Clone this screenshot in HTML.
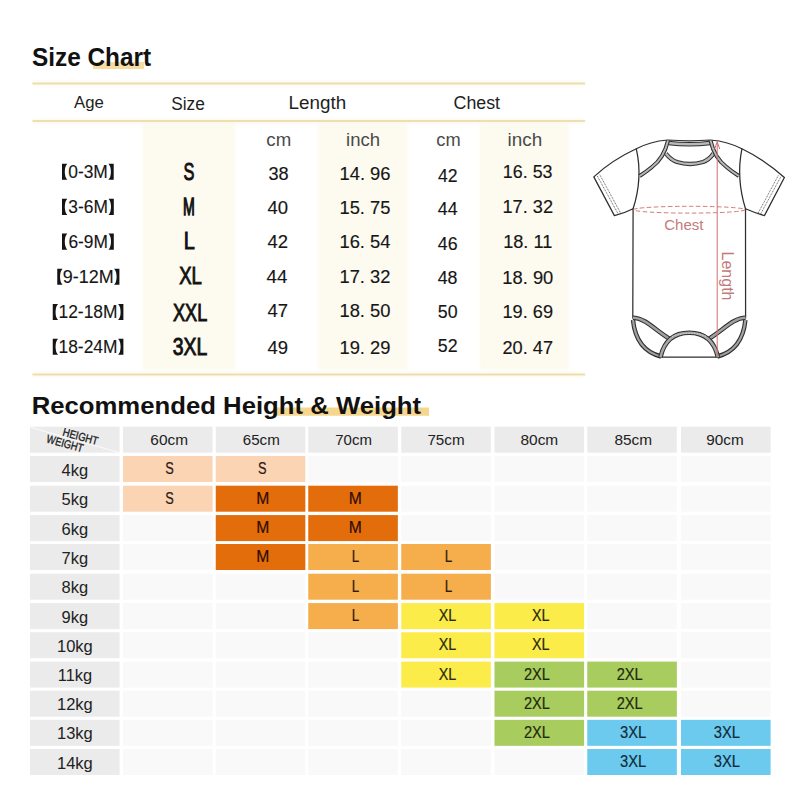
<!DOCTYPE html>
<html><head><meta charset="utf-8"><style>
html,body{margin:0;padding:0;background:#fff;width:800px;height:800px;overflow:hidden}
svg{display:block;font-family:"Liberation Sans", sans-serif}
</style></head><body>
<svg width="800" height="800" viewBox="0 0 800 800">
<rect width="800" height="800" fill="#fff"/>
<rect x="93" y="62" width="51" height="7" fill="#f6dc9e" />
<text id="title1" x="91.58" y="66" font-size="25" font-weight="bold" fill="#111" text-anchor="middle" textLength="119.13" lengthAdjust="spacingAndGlyphs" >Size Chart</text>
<defs><filter id="bl" x="-10%" y="-5%" width="120%" height="110%"><feGaussianBlur stdDeviation="1.6"/></filter></defs>
<g filter="url(#bl)">
<rect x="142.5" y="122" width="92.5" height="248" fill="#fdfaf0" />
<rect x="318" y="122" width="90" height="248" fill="#fdfaf0" />
<rect x="479.6" y="122" width="89.4" height="248" fill="#fdfaf0" />
<rect x="32.5" y="81.5" width="552.5" height="4" fill="#fdf8e6" />
<rect x="32.5" y="119" width="552.5" height="4" fill="#fdf8e6" />
<rect x="32.5" y="372.5" width="552.5" height="4" fill="#fdf8e6" />
</g>
<rect x="32.5" y="82.6" width="552.5" height="1.8" fill="#ebdcae" />
<rect x="32.5" y="120.1" width="552.5" height="1.8" fill="#ebdcae" />
<rect x="32.5" y="373.6" width="552.5" height="1.8" fill="#ebdcae" />
<text id="h_age" x="88.93" y="108.3" font-size="17" font-weight="normal" fill="#1e1e1e" text-anchor="middle" textLength="29.81" lengthAdjust="spacingAndGlyphs" >Age</text>
<text id="h_size" x="187.96" y="110" font-size="17.5" font-weight="normal" fill="#1e1e1e" text-anchor="middle" textLength="33.65" lengthAdjust="spacingAndGlyphs" >Size</text>
<text id="h_len" x="317.44" y="109.4" font-size="18" font-weight="normal" fill="#1e1e1e" text-anchor="middle" textLength="57.62" lengthAdjust="spacingAndGlyphs" >Length</text>
<text id="h_chest" x="476.82" y="109" font-size="17.5" font-weight="normal" fill="#1e1e1e" text-anchor="middle" textLength="46.45" lengthAdjust="spacingAndGlyphs" >Chest</text>
<text id="cm1" x="278.79" y="146" font-size="18" font-weight="normal" fill="#4a4a4a" text-anchor="middle" textLength="24.85" lengthAdjust="spacingAndGlyphs" >cm</text>
<text id="in1" x="363.11" y="146" font-size="18" font-weight="normal" fill="#4a4a4a" text-anchor="middle" textLength="34.02" lengthAdjust="spacingAndGlyphs" >inch</text>
<text id="cm2" x="448.46" y="146" font-size="18" font-weight="normal" fill="#4a4a4a" text-anchor="middle" textLength="24.34" lengthAdjust="spacingAndGlyphs" >cm</text>
<text id="in2" x="524.94" y="146" font-size="18" font-weight="normal" fill="#4a4a4a" text-anchor="middle" textLength="34.69" lengthAdjust="spacingAndGlyphs" >inch</text>
<text id="age0" x="88.05" y="178.4" font-size="17.5" font-weight="normal" fill="#161616" stroke="#161616" stroke-width="0.12" text-anchor="middle" textLength="39.63" lengthAdjust="spacingAndGlyphs" >0-3M</text>
<path d="M67.30,163.70 L62.00,163.70 L62.00,179.70 L67.30,179.70 Q64.80,177.20 64.80,171.70 Q64.80,166.20 67.30,163.70 Z" fill="#151515"/>
<path d="M108.40,163.70 L113.70,163.70 L113.70,179.70 L108.40,179.70 Q110.90,177.20 110.90,171.70 Q110.90,166.20 108.40,163.70 Z" fill="#151515"/>
<text id="age1" x="88.06" y="213.1" font-size="17.5" font-weight="normal" fill="#161616" stroke="#161616" stroke-width="0.12" text-anchor="middle" textLength="39.62" lengthAdjust="spacingAndGlyphs" >3-6M</text>
<path d="M67.30,198.70 L62.00,198.70 L62.00,214.90 L67.30,214.90 Q64.80,212.40 64.80,206.80 Q64.80,201.20 67.30,198.70 Z" fill="#151515"/>
<path d="M108.50,198.70 L113.80,198.70 L113.80,214.90 L108.50,214.90 Q111.00,212.40 111.00,206.80 Q111.00,201.20 108.50,198.70 Z" fill="#151515"/>
<text id="age2" x="88.18" y="248.1" font-size="17.5" font-weight="normal" fill="#161616" stroke="#161616" stroke-width="0.12" text-anchor="middle" textLength="39.48" lengthAdjust="spacingAndGlyphs" >6-9M</text>
<path d="M67.30,233.50 L62.00,233.50 L62.00,249.70 L67.30,249.70 Q64.80,247.20 64.80,241.60 Q64.80,236.00 67.30,233.50 Z" fill="#151515"/>
<path d="M108.50,233.50 L113.80,233.50 L113.80,249.70 L108.50,249.70 Q111.00,247.20 111.00,241.60 Q111.00,236.00 108.50,233.50 Z" fill="#151515"/>
<text id="age3" x="88.31" y="283.1" font-size="17.5" font-weight="normal" fill="#161616" stroke="#161616" stroke-width="0.12" text-anchor="middle" textLength="50.91" lengthAdjust="spacingAndGlyphs" >9-12M</text>
<path d="M62.55,268.75 L57.25,268.75 L57.25,284.75 L62.55,284.75 Q60.05,282.25 60.05,276.75 Q60.05,271.25 62.55,268.75 Z" fill="#151515"/>
<path d="M114.10,268.75 L119.40,268.75 L119.40,284.75 L114.10,284.75 Q116.60,282.25 116.60,276.75 Q116.60,271.25 114.10,268.75 Z" fill="#151515"/>
<text id="age4" x="87.99" y="318.1" font-size="17.5" font-weight="normal" fill="#161616" stroke="#161616" stroke-width="0.12" text-anchor="middle" textLength="58.91" lengthAdjust="spacingAndGlyphs" >12-18M</text>
<path d="M58.05,304.00 L52.75,304.00 L52.75,320.00 L58.05,320.00 Q55.55,317.50 55.55,312.00 Q55.55,306.50 58.05,304.00 Z" fill="#151515"/>
<path d="M118.10,304.00 L123.40,304.00 L123.40,320.00 L118.10,320.00 Q120.60,317.50 120.60,312.00 Q120.60,306.50 118.10,304.00 Z" fill="#151515"/>
<text id="age5" x="87.99" y="352.5" font-size="17.5" font-weight="normal" fill="#161616" stroke="#161616" stroke-width="0.12" text-anchor="middle" textLength="58.91" lengthAdjust="spacingAndGlyphs" >18-24M</text>
<path d="M58.05,338.75 L52.75,338.75 L52.75,354.75 L58.05,354.75 Q55.55,352.25 55.55,346.75 Q55.55,341.25 58.05,338.75 Z" fill="#151515"/>
<path d="M118.10,338.75 L123.40,338.75 L123.40,354.75 L118.10,354.75 Q120.60,352.25 120.60,346.75 Q120.60,341.25 118.10,338.75 Z" fill="#151515"/>
<text id="sz0" x="188.84" y="179.8" font-size="24" font-weight="normal" fill="#111" stroke="#111" stroke-width="0.95" text-anchor="middle" textLength="10.92" lengthAdjust="spacingAndGlyphs" >S</text>
<text id="sz1" x="188.86" y="214.7" font-size="24" font-weight="normal" fill="#111" stroke="#111" stroke-width="1.3" text-anchor="middle" textLength="11.78" lengthAdjust="spacingAndGlyphs" >M</text>
<text id="sz2" x="189.40" y="249" font-size="24" font-weight="normal" fill="#111" stroke="#111" stroke-width="0.95" text-anchor="middle" textLength="11.06" lengthAdjust="spacingAndGlyphs" >L</text>
<text id="sz3" x="190.60" y="283.75" font-size="24" font-weight="normal" fill="#111" stroke="#111" stroke-width="0.95" text-anchor="middle" textLength="22.65" lengthAdjust="spacingAndGlyphs" >XL</text>
<text id="sz4" x="190.16" y="320.5" font-size="24" font-weight="normal" fill="#111" stroke="#111" stroke-width="0.95" text-anchor="middle" textLength="34.25" lengthAdjust="spacingAndGlyphs" >XXL</text>
<text id="sz5" x="190.03" y="354.5" font-size="24" font-weight="normal" fill="#111" stroke="#111" stroke-width="0.95" text-anchor="middle" textLength="34.48" lengthAdjust="spacingAndGlyphs" >3XL</text>
<text id="lcm0" x="278.57" y="179.5" font-size="18" font-weight="normal" fill="#161616" stroke="#161616" stroke-width="0.15" text-anchor="middle" textLength="20.20" lengthAdjust="spacingAndGlyphs" >38</text>
<text id="lin0" x="365.00" y="179.5" font-size="18" font-weight="normal" fill="#161616" stroke="#161616" stroke-width="0.15" text-anchor="middle" textLength="51.02" lengthAdjust="spacingAndGlyphs" >14. 96</text>
<text id="ccm0" x="447.83" y="182" font-size="18" font-weight="normal" fill="#161616" stroke="#161616" stroke-width="0.15" text-anchor="middle" textLength="19.58" lengthAdjust="spacingAndGlyphs" >42</text>
<text id="cin0" x="527.68" y="178" font-size="18" font-weight="normal" fill="#161616" stroke="#161616" stroke-width="0.15" text-anchor="middle" textLength="49.62" lengthAdjust="spacingAndGlyphs" >16. 53</text>
<text id="lcm1" x="277.76" y="213.75" font-size="18" font-weight="normal" fill="#161616" stroke="#161616" stroke-width="0.15" text-anchor="middle" textLength="20.58" lengthAdjust="spacingAndGlyphs" >40</text>
<text id="lin1" x="364.96" y="213.75" font-size="18" font-weight="normal" fill="#161616" stroke="#161616" stroke-width="0.15" text-anchor="middle" textLength="50.96" lengthAdjust="spacingAndGlyphs" >15. 75</text>
<text id="ccm1" x="447.73" y="215" font-size="18" font-weight="normal" fill="#161616" stroke="#161616" stroke-width="0.15" text-anchor="middle" textLength="19.78" lengthAdjust="spacingAndGlyphs" >44</text>
<text id="cin1" x="527.76" y="213" font-size="18" font-weight="normal" fill="#161616" stroke="#161616" stroke-width="0.15" text-anchor="middle" textLength="50.47" lengthAdjust="spacingAndGlyphs" >17. 32</text>
<text id="lcm2" x="277.76" y="247.5" font-size="18" font-weight="normal" fill="#161616" stroke="#161616" stroke-width="0.15" text-anchor="middle" textLength="20.58" lengthAdjust="spacingAndGlyphs" >42</text>
<text id="lin2" x="364.96" y="247.5" font-size="18" font-weight="normal" fill="#161616" stroke="#161616" stroke-width="0.15" text-anchor="middle" textLength="50.96" lengthAdjust="spacingAndGlyphs" >16. 54</text>
<text id="ccm2" x="447.73" y="250" font-size="18" font-weight="normal" fill="#161616" stroke="#161616" stroke-width="0.15" text-anchor="middle" textLength="19.78" lengthAdjust="spacingAndGlyphs" >46</text>
<text id="cin2" x="527.76" y="248" font-size="18" font-weight="normal" fill="#161616" stroke="#161616" stroke-width="0.15" text-anchor="middle" textLength="49.12" lengthAdjust="spacingAndGlyphs" >18. 11</text>
<text id="lcm3" x="276.95" y="283.25" font-size="18" font-weight="normal" fill="#161616" stroke="#161616" stroke-width="0.15" text-anchor="middle" textLength="20.76" lengthAdjust="spacingAndGlyphs" >44</text>
<text id="lin3" x="364.92" y="283.25" font-size="18" font-weight="normal" fill="#161616" stroke="#161616" stroke-width="0.15" text-anchor="middle" textLength="50.79" lengthAdjust="spacingAndGlyphs" >17. 32</text>
<text id="ccm3" x="447.63" y="284.2" font-size="18" font-weight="normal" fill="#161616" stroke="#161616" stroke-width="0.15" text-anchor="middle" textLength="19.75" lengthAdjust="spacingAndGlyphs" >48</text>
<text id="cin3" x="527.84" y="284" font-size="18" font-weight="normal" fill="#161616" stroke="#161616" stroke-width="0.15" text-anchor="middle" textLength="50.94" lengthAdjust="spacingAndGlyphs" >18. 90</text>
<text id="lcm4" x="277.76" y="317" font-size="18" font-weight="normal" fill="#161616" stroke="#161616" stroke-width="0.15" text-anchor="middle" textLength="20.58" lengthAdjust="spacingAndGlyphs" >47</text>
<text id="lin4" x="364.96" y="317" font-size="18" font-weight="normal" fill="#161616" stroke="#161616" stroke-width="0.15" text-anchor="middle" textLength="50.96" lengthAdjust="spacingAndGlyphs" >18. 50</text>
<text id="ccm4" x="447.73" y="318.2" font-size="18" font-weight="normal" fill="#161616" stroke="#161616" stroke-width="0.15" text-anchor="middle" textLength="19.78" lengthAdjust="spacingAndGlyphs" >50</text>
<text id="cin4" x="527.76" y="318" font-size="18" font-weight="normal" fill="#161616" stroke="#161616" stroke-width="0.15" text-anchor="middle" textLength="50.47" lengthAdjust="spacingAndGlyphs" >19. 69</text>
<text id="lcm5" x="277.76" y="353.75" font-size="18" font-weight="normal" fill="#161616" stroke="#161616" stroke-width="0.15" text-anchor="middle" textLength="20.58" lengthAdjust="spacingAndGlyphs" >49</text>
<text id="lin5" x="364.96" y="353.75" font-size="18" font-weight="normal" fill="#161616" stroke="#161616" stroke-width="0.15" text-anchor="middle" textLength="50.96" lengthAdjust="spacingAndGlyphs" >19. 29</text>
<text id="ccm5" x="447.73" y="352.4" font-size="18" font-weight="normal" fill="#161616" stroke="#161616" stroke-width="0.15" text-anchor="middle" textLength="19.78" lengthAdjust="spacingAndGlyphs" >52</text>
<text id="cin5" x="527.76" y="353.5" font-size="18" font-weight="normal" fill="#161616" stroke="#161616" stroke-width="0.15" text-anchor="middle" textLength="50.47" lengthAdjust="spacingAndGlyphs" >20. 47</text>
<rect x="273.6" y="407.5" width="155.4" height="8.25" fill="#f5d68f" />
<text id="title2" x="226.39" y="413.5" font-size="23" font-weight="bold" fill="#111" text-anchor="middle" textLength="389.44" lengthAdjust="spacingAndGlyphs" >Recommended Height &amp; Weight</text>
<rect x="30" y="426.7" width="89.6" height="26" fill="#ebebeb" />
<rect x="123" y="426.7" width="89.6" height="26" fill="#ebebeb" />
<text id="col0" x="169.15" y="445.45" font-size="14.5" font-weight="normal" fill="#222" text-anchor="middle" textLength="37.64" lengthAdjust="spacingAndGlyphs" >60cm</text>
<rect x="215.75" y="426.7" width="89.6" height="26" fill="#ebebeb" />
<text id="col1" x="261.27" y="445.45" font-size="14.5" font-weight="normal" fill="#222" text-anchor="middle" textLength="37.02" lengthAdjust="spacingAndGlyphs" >65cm</text>
<rect x="308.25" y="426.7" width="89.6" height="26" fill="#ebebeb" />
<text id="col2" x="353.55" y="445.45" font-size="14.5" font-weight="normal" fill="#222" text-anchor="middle" textLength="36.63" lengthAdjust="spacingAndGlyphs" >70cm</text>
<rect x="401.25" y="426.7" width="89.6" height="26" fill="#ebebeb" />
<text id="col3" x="446.02" y="445.45" font-size="14.5" font-weight="normal" fill="#222" text-anchor="middle" textLength="37.25" lengthAdjust="spacingAndGlyphs" >75cm</text>
<rect x="494.5" y="426.7" width="89.6" height="26" fill="#ebebeb" />
<text id="col4" x="539.35" y="445.45" font-size="14.5" font-weight="normal" fill="#222" text-anchor="middle" textLength="37.74" lengthAdjust="spacingAndGlyphs" >80cm</text>
<rect x="587.25" y="426.7" width="89.6" height="26" fill="#ebebeb" />
<text id="col5" x="633.25" y="445.45" font-size="14.5" font-weight="normal" fill="#222" text-anchor="middle" textLength="37.68" lengthAdjust="spacingAndGlyphs" >85cm</text>
<rect x="681" y="426.7" width="89.6" height="26" fill="#ebebeb" />
<text id="col6" x="725.01" y="445.45" font-size="14.5" font-weight="normal" fill="#222" text-anchor="middle" textLength="37.35" lengthAdjust="spacingAndGlyphs" >90cm</text>
<rect x="30" y="456" width="89.6" height="26" fill="#ebebeb" />
<text id="kg0" x="74.91" y="475.6" font-size="16.5" font-weight="normal" fill="#222" text-anchor="middle" textLength="26.59" lengthAdjust="spacingAndGlyphs" >4kg</text>
<rect x="123" y="456" width="89.6" height="26" fill="#fbd4b4" />
<text id="c0_0" x="169.41" y="474" font-size="16" font-weight="normal" fill="#2b2018" stroke="#2b2018" stroke-width="0.2" text-anchor="middle" textLength="8.50" lengthAdjust="spacingAndGlyphs" >S</text>
<rect x="215.75" y="456" width="89.6" height="26" fill="#fbd4b4" />
<text id="c0_1" x="262.16" y="474" font-size="16" font-weight="normal" fill="#2b2018" stroke="#2b2018" stroke-width="0.2" text-anchor="middle" textLength="8.50" lengthAdjust="spacingAndGlyphs" >S</text>
<rect x="308.25" y="456" width="89.6" height="26" fill="#f9f9f9" />
<rect x="401.25" y="456" width="89.6" height="26" fill="#f9f9f9" />
<rect x="494.5" y="456" width="89.6" height="26" fill="#f9f9f9" />
<rect x="587.25" y="456" width="89.6" height="26" fill="#f9f9f9" />
<rect x="681" y="456" width="89.6" height="26" fill="#f9f9f9" />
<rect x="30" y="485.7" width="89.6" height="26" fill="#ebebeb" />
<text id="kg1" x="74.91" y="505.3" font-size="16.5" font-weight="normal" fill="#222" text-anchor="middle" textLength="26.59" lengthAdjust="spacingAndGlyphs" >5kg</text>
<rect x="123" y="485.7" width="89.6" height="26" fill="#fbd4b4" />
<text id="c1_0" x="169.41" y="503.7" font-size="16" font-weight="normal" fill="#2b2018" stroke="#2b2018" stroke-width="0.2" text-anchor="middle" textLength="8.50" lengthAdjust="spacingAndGlyphs" >S</text>
<rect x="215.75" y="485.7" width="89.6" height="26" fill="#e36c0b" />
<text id="c1_1" x="262.80" y="503.7" font-size="16" font-weight="normal" fill="#2e0c04" stroke="#2e0c04" stroke-width="0.2" text-anchor="middle" textLength="13.03" lengthAdjust="spacingAndGlyphs" >M</text>
<rect x="308.25" y="485.7" width="89.6" height="26" fill="#e36c0b" />
<text id="c1_2" x="355.30" y="503.7" font-size="16" font-weight="normal" fill="#2e0c04" stroke="#2e0c04" stroke-width="0.2" text-anchor="middle" textLength="13.03" lengthAdjust="spacingAndGlyphs" >M</text>
<rect x="401.25" y="485.7" width="89.6" height="26" fill="#f9f9f9" />
<rect x="494.5" y="485.7" width="89.6" height="26" fill="#f9f9f9" />
<rect x="587.25" y="485.7" width="89.6" height="26" fill="#f9f9f9" />
<rect x="681" y="485.7" width="89.6" height="26" fill="#f9f9f9" />
<rect x="30" y="515.1" width="89.6" height="26" fill="#ebebeb" />
<text id="kg2" x="74.91" y="534.7" font-size="16.5" font-weight="normal" fill="#222" text-anchor="middle" textLength="26.59" lengthAdjust="spacingAndGlyphs" >6kg</text>
<rect x="123" y="515.1" width="89.6" height="26" fill="#f9f9f9" />
<rect x="215.75" y="515.1" width="89.6" height="26" fill="#e36c0b" />
<text id="c2_1" x="262.80" y="533.1" font-size="16" font-weight="normal" fill="#2e0c04" stroke="#2e0c04" stroke-width="0.2" text-anchor="middle" textLength="13.03" lengthAdjust="spacingAndGlyphs" >M</text>
<rect x="308.25" y="515.1" width="89.6" height="26" fill="#e36c0b" />
<text id="c2_2" x="355.30" y="533.1" font-size="16" font-weight="normal" fill="#2e0c04" stroke="#2e0c04" stroke-width="0.2" text-anchor="middle" textLength="13.03" lengthAdjust="spacingAndGlyphs" >M</text>
<rect x="401.25" y="515.1" width="89.6" height="26" fill="#f9f9f9" />
<rect x="494.5" y="515.1" width="89.6" height="26" fill="#f9f9f9" />
<rect x="587.25" y="515.1" width="89.6" height="26" fill="#f9f9f9" />
<rect x="681" y="515.1" width="89.6" height="26" fill="#f9f9f9" />
<rect x="30" y="544" width="89.6" height="26" fill="#ebebeb" />
<text id="kg3" x="74.91" y="563.6" font-size="16.5" font-weight="normal" fill="#222" text-anchor="middle" textLength="26.59" lengthAdjust="spacingAndGlyphs" >7kg</text>
<rect x="123" y="544" width="89.6" height="26" fill="#f9f9f9" />
<rect x="215.75" y="544" width="89.6" height="26" fill="#e36c0b" />
<text id="c3_1" x="262.80" y="562" font-size="16" font-weight="normal" fill="#2e0c04" stroke="#2e0c04" stroke-width="0.2" text-anchor="middle" textLength="13.03" lengthAdjust="spacingAndGlyphs" >M</text>
<rect x="308.25" y="544" width="89.6" height="26" fill="#f6ad4c" />
<text id="c3_2" x="355.57" y="562" font-size="16" font-weight="normal" fill="#2a1a08" stroke="#2a1a08" stroke-width="0.2" text-anchor="middle" textLength="7.43" lengthAdjust="spacingAndGlyphs" >L</text>
<rect x="401.25" y="544" width="89.6" height="26" fill="#f6ad4c" />
<text id="c3_3" x="448.57" y="562" font-size="16" font-weight="normal" fill="#2a1a08" stroke="#2a1a08" stroke-width="0.2" text-anchor="middle" textLength="7.43" lengthAdjust="spacingAndGlyphs" >L</text>
<rect x="494.5" y="544" width="89.6" height="26" fill="#f9f9f9" />
<rect x="587.25" y="544" width="89.6" height="26" fill="#f9f9f9" />
<rect x="681" y="544" width="89.6" height="26" fill="#f9f9f9" />
<rect x="30" y="573.7" width="89.6" height="26" fill="#ebebeb" />
<text id="kg4" x="74.91" y="593.3" font-size="16.5" font-weight="normal" fill="#222" text-anchor="middle" textLength="26.59" lengthAdjust="spacingAndGlyphs" >8kg</text>
<rect x="123" y="573.7" width="89.6" height="26" fill="#f9f9f9" />
<rect x="215.75" y="573.7" width="89.6" height="26" fill="#f9f9f9" />
<rect x="308.25" y="573.7" width="89.6" height="26" fill="#f6ad4c" />
<text id="c4_2" x="355.57" y="591.7" font-size="16" font-weight="normal" fill="#2a1a08" stroke="#2a1a08" stroke-width="0.2" text-anchor="middle" textLength="7.43" lengthAdjust="spacingAndGlyphs" >L</text>
<rect x="401.25" y="573.7" width="89.6" height="26" fill="#f6ad4c" />
<text id="c4_3" x="448.57" y="591.7" font-size="16" font-weight="normal" fill="#2a1a08" stroke="#2a1a08" stroke-width="0.2" text-anchor="middle" textLength="7.43" lengthAdjust="spacingAndGlyphs" >L</text>
<rect x="494.5" y="573.7" width="89.6" height="26" fill="#f9f9f9" />
<rect x="587.25" y="573.7" width="89.6" height="26" fill="#f9f9f9" />
<rect x="681" y="573.7" width="89.6" height="26" fill="#f9f9f9" />
<rect x="30" y="603.1" width="89.6" height="26" fill="#ebebeb" />
<text id="kg5" x="74.91" y="622.7" font-size="16.5" font-weight="normal" fill="#222" text-anchor="middle" textLength="26.59" lengthAdjust="spacingAndGlyphs" >9kg</text>
<rect x="123" y="603.1" width="89.6" height="26" fill="#f9f9f9" />
<rect x="215.75" y="603.1" width="89.6" height="26" fill="#f9f9f9" />
<rect x="308.25" y="603.1" width="89.6" height="26" fill="#f6ad4c" />
<text id="c5_2" x="355.57" y="621.1" font-size="16" font-weight="normal" fill="#2a1a08" stroke="#2a1a08" stroke-width="0.2" text-anchor="middle" textLength="7.43" lengthAdjust="spacingAndGlyphs" >L</text>
<rect x="401.25" y="603.1" width="89.6" height="26" fill="#fbec4a" />
<text id="c5_3" x="447.51" y="621.1" font-size="16" font-weight="normal" fill="#2a2a10" stroke="#2a2a10" stroke-width="0.2" text-anchor="middle" textLength="17.55" lengthAdjust="spacingAndGlyphs" >XL</text>
<rect x="494.5" y="603.1" width="89.6" height="26" fill="#fbec4a" />
<text id="c5_4" x="540.76" y="621.1" font-size="16" font-weight="normal" fill="#2a2a10" stroke="#2a2a10" stroke-width="0.2" text-anchor="middle" textLength="17.55" lengthAdjust="spacingAndGlyphs" >XL</text>
<rect x="587.25" y="603.1" width="89.6" height="26" fill="#f9f9f9" />
<rect x="681" y="603.1" width="89.6" height="26" fill="#f9f9f9" />
<rect x="30" y="632.25" width="89.6" height="26" fill="#ebebeb" />
<text id="kg6" x="74.91" y="651.85" font-size="16.5" font-weight="normal" fill="#222" text-anchor="middle" textLength="35.78" lengthAdjust="spacingAndGlyphs" >10kg</text>
<rect x="123" y="632.25" width="89.6" height="26" fill="#f9f9f9" />
<rect x="215.75" y="632.25" width="89.6" height="26" fill="#f9f9f9" />
<rect x="308.25" y="632.25" width="89.6" height="26" fill="#f9f9f9" />
<rect x="401.25" y="632.25" width="89.6" height="26" fill="#fbec4a" />
<text id="c6_3" x="447.51" y="650.25" font-size="16" font-weight="normal" fill="#2a2a10" stroke="#2a2a10" stroke-width="0.2" text-anchor="middle" textLength="17.55" lengthAdjust="spacingAndGlyphs" >XL</text>
<rect x="494.5" y="632.25" width="89.6" height="26" fill="#fbec4a" />
<text id="c6_4" x="540.76" y="650.25" font-size="16" font-weight="normal" fill="#2a2a10" stroke="#2a2a10" stroke-width="0.2" text-anchor="middle" textLength="17.55" lengthAdjust="spacingAndGlyphs" >XL</text>
<rect x="587.25" y="632.25" width="89.6" height="26" fill="#f9f9f9" />
<rect x="681" y="632.25" width="89.6" height="26" fill="#f9f9f9" />
<rect x="30" y="661.6" width="89.6" height="26" fill="#ebebeb" />
<text id="kg7" x="74.91" y="681.2" font-size="16.5" font-weight="normal" fill="#222" text-anchor="middle" textLength="34.35" lengthAdjust="spacingAndGlyphs" >11kg</text>
<rect x="123" y="661.6" width="89.6" height="26" fill="#f9f9f9" />
<rect x="215.75" y="661.6" width="89.6" height="26" fill="#f9f9f9" />
<rect x="308.25" y="661.6" width="89.6" height="26" fill="#f9f9f9" />
<rect x="401.25" y="661.6" width="89.6" height="26" fill="#fbec4a" />
<text id="c7_3" x="447.51" y="679.6" font-size="16" font-weight="normal" fill="#2a2a10" stroke="#2a2a10" stroke-width="0.2" text-anchor="middle" textLength="17.55" lengthAdjust="spacingAndGlyphs" >XL</text>
<rect x="494.5" y="661.6" width="89.6" height="26" fill="#a8cc5e" />
<text id="c7_4" x="536.87" y="679.6" font-size="16" font-weight="normal" fill="#1e2a10" stroke="#1e2a10" stroke-width="0.2" text-anchor="middle" textLength="25.93" lengthAdjust="spacingAndGlyphs" >2XL</text>
<rect x="587.25" y="661.6" width="89.6" height="26" fill="#a8cc5e" />
<text id="c7_5" x="629.62" y="679.6" font-size="16" font-weight="normal" fill="#1e2a10" stroke="#1e2a10" stroke-width="0.2" text-anchor="middle" textLength="25.93" lengthAdjust="spacingAndGlyphs" >2XL</text>
<rect x="681" y="661.6" width="89.6" height="26" fill="#f9f9f9" />
<rect x="30" y="690.7" width="89.6" height="26" fill="#ebebeb" />
<text id="kg8" x="74.91" y="710.3" font-size="16.5" font-weight="normal" fill="#222" text-anchor="middle" textLength="35.78" lengthAdjust="spacingAndGlyphs" >12kg</text>
<rect x="123" y="690.7" width="89.6" height="26" fill="#f9f9f9" />
<rect x="215.75" y="690.7" width="89.6" height="26" fill="#f9f9f9" />
<rect x="308.25" y="690.7" width="89.6" height="26" fill="#f9f9f9" />
<rect x="401.25" y="690.7" width="89.6" height="26" fill="#f9f9f9" />
<rect x="494.5" y="690.7" width="89.6" height="26" fill="#a8cc5e" />
<text id="c8_4" x="536.87" y="708.7" font-size="16" font-weight="normal" fill="#1e2a10" stroke="#1e2a10" stroke-width="0.2" text-anchor="middle" textLength="25.93" lengthAdjust="spacingAndGlyphs" >2XL</text>
<rect x="587.25" y="690.7" width="89.6" height="26" fill="#a8cc5e" />
<text id="c8_5" x="629.62" y="708.7" font-size="16" font-weight="normal" fill="#1e2a10" stroke="#1e2a10" stroke-width="0.2" text-anchor="middle" textLength="25.93" lengthAdjust="spacingAndGlyphs" >2XL</text>
<rect x="681" y="690.7" width="89.6" height="26" fill="#f9f9f9" />
<rect x="30" y="719.85" width="89.6" height="26" fill="#ebebeb" />
<text id="kg9" x="74.91" y="739.45" font-size="16.5" font-weight="normal" fill="#222" text-anchor="middle" textLength="35.78" lengthAdjust="spacingAndGlyphs" >13kg</text>
<rect x="123" y="719.85" width="89.6" height="26" fill="#f9f9f9" />
<rect x="215.75" y="719.85" width="89.6" height="26" fill="#f9f9f9" />
<rect x="308.25" y="719.85" width="89.6" height="26" fill="#f9f9f9" />
<rect x="401.25" y="719.85" width="89.6" height="26" fill="#f9f9f9" />
<rect x="494.5" y="719.85" width="89.6" height="26" fill="#a8cc5e" />
<text id="c9_4" x="536.87" y="737.85" font-size="16" font-weight="normal" fill="#1e2a10" stroke="#1e2a10" stroke-width="0.2" text-anchor="middle" textLength="25.93" lengthAdjust="spacingAndGlyphs" >2XL</text>
<rect x="587.25" y="719.85" width="89.6" height="26" fill="#6ccaee" />
<text id="c9_5" x="633.16" y="737.85" font-size="16" font-weight="normal" fill="#102a3a" stroke="#102a3a" stroke-width="0.2" text-anchor="middle" textLength="26.19" lengthAdjust="spacingAndGlyphs" >3XL</text>
<rect x="681" y="719.85" width="89.6" height="26" fill="#6ccaee" />
<text id="c9_6" x="726.91" y="737.85" font-size="16" font-weight="normal" fill="#102a3a" stroke="#102a3a" stroke-width="0.2" text-anchor="middle" textLength="26.19" lengthAdjust="spacingAndGlyphs" >3XL</text>
<rect x="30" y="749" width="89.6" height="26" fill="#ebebeb" />
<text id="kg10" x="74.91" y="768.6" font-size="16.5" font-weight="normal" fill="#222" text-anchor="middle" textLength="35.78" lengthAdjust="spacingAndGlyphs" >14kg</text>
<rect x="123" y="749" width="89.6" height="26" fill="#f9f9f9" />
<rect x="215.75" y="749" width="89.6" height="26" fill="#f9f9f9" />
<rect x="308.25" y="749" width="89.6" height="26" fill="#f9f9f9" />
<rect x="401.25" y="749" width="89.6" height="26" fill="#f9f9f9" />
<rect x="494.5" y="749" width="89.6" height="26" fill="#f9f9f9" />
<rect x="587.25" y="749" width="89.6" height="26" fill="#6ccaee" />
<text id="c10_5" x="633.16" y="767" font-size="16" font-weight="normal" fill="#102a3a" stroke="#102a3a" stroke-width="0.2" text-anchor="middle" textLength="26.19" lengthAdjust="spacingAndGlyphs" >3XL</text>
<rect x="681" y="749" width="89.6" height="26" fill="#6ccaee" />
<text id="c10_6" x="726.91" y="767" font-size="16" font-weight="normal" fill="#102a3a" stroke="#102a3a" stroke-width="0.2" text-anchor="middle" textLength="26.19" lengthAdjust="spacingAndGlyphs" >3XL</text>
<line x1="30.4" y1="427.3" x2="119.75" y2="452.7" stroke="#fff" stroke-width="0.8"/>
<text x="80.5" y="440.5" font-size="11.5" fill="#1e1e1e" stroke="#1e1e1e" stroke-width="0.35" text-anchor="middle" textLength="36" lengthAdjust="spacingAndGlyphs" transform="rotate(15.5 80.5 436.5)">HEIGHT</text>
<text x="65" y="447.5" font-size="11.5" fill="#1e1e1e" stroke="#1e1e1e" stroke-width="0.35" text-anchor="middle" textLength="37.5" lengthAdjust="spacingAndGlyphs" transform="rotate(15.5 65 443.5)">WEIGHT</text>
<g fill="none" stroke="#2e2e2e" stroke-width="1.25" stroke-linejoin="round" stroke-linecap="round">
<path d="M632.8,318 L633.1,208.8 Q625,213 614.4,215.6 L593.8,176.9 Q612,160 636.3,148.8 Q650,141.5 667.5,140 Q690,141.5 710.5,140 Q728,141.5 741.9,148.8 Q765,160 784.4,177.5 L764.4,215.6 Q755,213 745.5,208.8 L745.6,318"/>
<path d="M660,357 L719,357"/>
<path d="M636.3,148.8 Q643,178 633.1,208.8"/>
<path d="M741.9,148.8 Q736,178 745.5,208.8"/>
</g>
<g fill="none" stroke="#555" stroke-width="0.9" stroke-dasharray="1,0.8">
<path d="M597.3,176 L618.3,214.2"/><path d="M599.8,174.7 L620.6,213"/>
<path d="M780.8,176.8 L760.5,214.2"/><path d="M778.3,175.5 L758.2,213"/>
</g>
<path d="M668.5,143 Q690,145.5 710,143" fill="none" stroke="#2e2e2e" stroke-width="4.6" stroke-linecap="butt"/>
<path d="M668.5,143 Q690,145.5 710,143" fill="none" stroke="#b8b8b8" stroke-width="2.4999999999999996" stroke-linecap="butt"/>
<path d="M665.8,153.5 Q671,160 677,162 Q690,166 703,162 Q709,160 713.5,153.5" fill="none" stroke="#2e2e2e" stroke-width="4.4" stroke-linecap="butt"/>
<path d="M665.8,153.5 Q671,160 677,162 Q690,166 703,162 Q709,160 713.5,153.5" fill="none" stroke="#b8b8b8" stroke-width="2.3000000000000003" stroke-linecap="butt"/>
<path d="M668,140.5 Q664,158 652,167 Q646,172 639.6,176" fill="none" stroke="#2e2e2e" stroke-width="4.0" stroke-linecap="butt"/>
<path d="M668,140.5 Q664,158 652,167 Q646,172 639.6,176" fill="none" stroke="#b8b8b8" stroke-width="1.9" stroke-linecap="butt"/>
<path d="M710.5,140.5 Q714.5,158 726.5,167 Q732.5,172 738.9,176" fill="none" stroke="#2e2e2e" stroke-width="4.0" stroke-linecap="butt"/>
<path d="M710.5,140.5 Q714.5,158 726.5,167 Q732.5,172 738.9,176" fill="none" stroke="#b8b8b8" stroke-width="1.9" stroke-linecap="butt"/>
<path d="M632.8,317.8 C645,317.8 655,330 669,338.5" fill="none" stroke="#2e2e2e" stroke-width="4.6" stroke-linecap="butt"/>
<path d="M632.8,317.8 C645,317.8 655,330 669,338.5" fill="none" stroke="#a0a0a0" stroke-width="2.4999999999999996" stroke-linecap="butt"/>
<path d="M745.6,317.8 C733.4,317.8 723.4,330 709.4,338.5" fill="none" stroke="#2e2e2e" stroke-width="4.6" stroke-linecap="butt"/>
<path d="M745.6,317.8 C733.4,317.8 723.4,330 709.4,338.5" fill="none" stroke="#a0a0a0" stroke-width="2.4999999999999996" stroke-linecap="butt"/>
<path d="M633,320 Q636,350 661,356.5" fill="none" stroke="#2e2e2e" stroke-width="4.4" stroke-linecap="butt"/>
<path d="M633,320 Q636,350 661,356.5" fill="none" stroke="#a0a0a0" stroke-width="2.3000000000000003" stroke-linecap="butt"/>
<path d="M745.4,320 Q742.4,350 717.4,356.5" fill="none" stroke="#2e2e2e" stroke-width="4.4" stroke-linecap="butt"/>
<path d="M745.4,320 Q742.4,350 717.4,356.5" fill="none" stroke="#a0a0a0" stroke-width="2.3000000000000003" stroke-linecap="butt"/>
<path d="M660.5,357 C664.5,340 674.5,332.8 689.2,332.8 C703.9,332.8 713.9,340 717.9,357" fill="none" stroke="#2e2e2e" stroke-width="4.6" stroke-linecap="butt"/>
<path d="M660.5,357 C664.5,340 674.5,332.8 689.2,332.8 C703.9,332.8 713.9,340 717.9,357" fill="none" stroke="#a8a8a8" stroke-width="2.4999999999999996" stroke-linecap="butt"/>
<path d="M672,336.5 C678,334 684,333.3 689.2,333.3 C694.4,333.3 700.4,334 706.4,336.5" fill="none" stroke="#eee" stroke-width="0.7" stroke-dasharray="1.2,1.6"/>
<ellipse cx="689.3" cy="209.7" rx="55.8" ry="3.4" fill="none" stroke="#d37b7b" stroke-width="1" stroke-dasharray="4.5,2.5"/>
<text x="683.8" y="230" font-size="15" fill="#c47a7a" text-anchor="middle">Chest</text>
<line x1="717.2" y1="143" x2="717.2" y2="357" stroke="#cf7272" stroke-width="1"/>
<path d="M714.7,149 L717.2,141.5 L719.7,149" fill="none" stroke="#cf7272" stroke-width="1"/>
<text x="0" y="0" font-size="16" fill="#c47a7a" text-anchor="middle" transform="translate(722,276) rotate(90)">Length</text>
</svg></body></html>
